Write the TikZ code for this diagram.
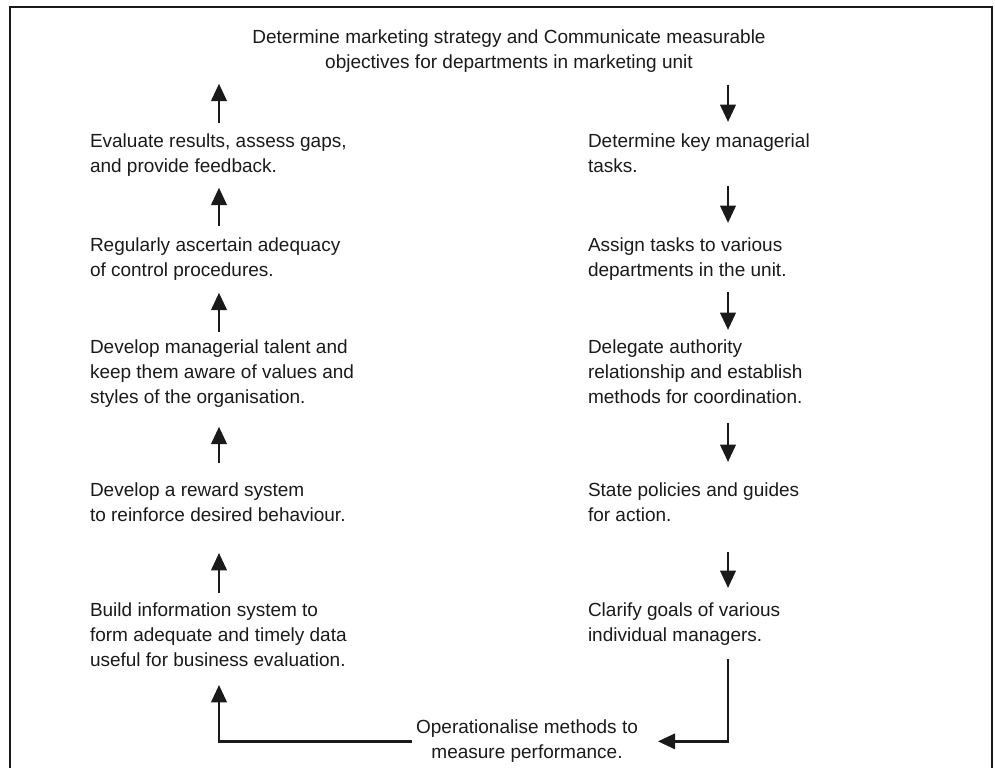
\documentclass[tikz,border=0pt]{standalone}
\usepackage{fontspec}
\setmainfont{Liberation Sans}
\usetikzlibrary{arrows.meta,calc}
\definecolor{ink}{HTML}{1A1A1A}
\begin{document}
\begin{tikzpicture}[x=0.75pt,y=-0.75pt,
  every node/.style={inner sep=0pt,outer sep=0pt,text=ink,
    font=\fontsize{14.25pt}{18.75pt}\selectfont},
  steptext/.style={anchor=north west,align=left},
  flow/.style={draw=ink,line width=2.2pt,-{Triangle[length=13pt,width=11.5pt]}},
  frameline/.style={draw=ink,line width=1.8pt}]
\useasboundingbox (0,0) rectangle (995,767);
% open frame running off the lower edge
\begin{scope}
  \clip (0,0) rectangle (995,767);
  \draw[frameline] (10,790) -- (10,7) -- (992,7) -- (992,790);
\end{scope}

% arrow columns
\coordinate (colL) at (219,0);
\coordinate (colR) at (728,0);

% heading
\node[anchor=north,align=center] (title) at (509,30)
  {Determine marketing strategy and Communicate measurable\\objectives for departments in marketing unit};

% left column (feedback side)
\node[steptext] (L1) at (90,134) {Evaluate results, assess gaps,\\and provide feedback.};
\node[steptext] (L2) at (90,238) {Regularly ascertain adequacy\\of control procedures.};
\node[steptext] (L3) at (90,340) {Develop managerial talent and\\keep them aware of values and\\styles of the organisation.};
\node[steptext] (L4) at (90,483) {Develop a reward system\\to reinforce desired behaviour.};
\node[steptext] (L5) at (90,603) {Build information system to\\form adequate and timely data\\useful for business evaluation.};

% right column (planning side)
\node[steptext] (R1) at (588,134) {Determine key managerial\\tasks.};
\node[steptext] (R2) at (588,238) {Assign tasks to various\\departments in the unit.};
\node[steptext] (R3) at (588,340) {Delegate authority\\relationship and establish\\methods for coordination.};
\node[steptext] (R4) at (588,483) {State policies and guides\\for action.};
\node[steptext] (R5) at (588,603) {Clarify goals of various\\individual managers.};

% bottom step
\node[anchor=north,align=center] (op) at (527,720)
  {Operationalise methods to\\measure performance.};

% upward arrows on the left
\draw[flow] ($(L1.north -| colL)+(0,-11)$) -- ($(title.south -| colL)+(0,11)$);
\draw[flow] ($(L2.north -| colL)+(0,-12)$) -- ($(L1.south -| colL)+(0,11)$);
\draw[flow] ($(L3.north -| colL)+(0,-8)$)  -- ($(L2.south -| colL)+(0,12)$);
\draw[flow] ($(L4.north -| colL)+(0,-20)$) -- ($(L3.south -| colL)+(0,19)$);
\draw[flow] ($(L5.north -| colL)+(0,-10)$) -- ($(L4.south -| colL)+(0,31)$);

% downward arrows on the right
\draw[flow] ($(title.south -| colR)+(0,12)$) -- ($(R1.north -| colR)+(0,-12)$);
\draw[flow] ($(R1.south -| colR)+(0,13)$) -- ($(R2.north -| colR)+(0,-15)$);
\draw[flow] ($(R2.south -| colR)+(0,11)$) -- ($(R3.north -| colR)+(0,-10)$);
\draw[flow] ($(R3.south -| colR)+(0,19)$) -- ($(R4.north -| colR)+(0,-21)$);
\draw[flow] ($(R4.south -| colR)+(0,30)$) -- ($(R5.north -| colR)+(0,-15)$);

% closing the loop along the bottom
\draw[flow] ($(R5.south -| colR)+(0,13)$) |- ($(op.east)+(20,0)$);
\draw[flow] ($(op.west)+(-4,0)$) -| ($(L5.south -| colL)+(0,18)$);
\end{tikzpicture}
\end{document}
